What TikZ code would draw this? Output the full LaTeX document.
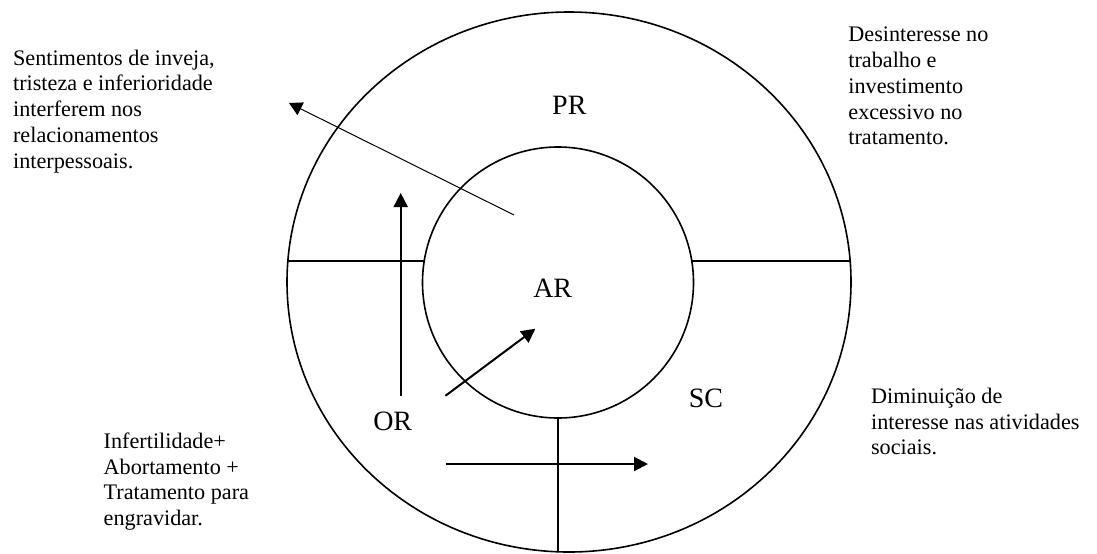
\documentclass[tikz,border=0pt]{standalone}
\usepackage{fontspec}
\setmainfont{Liberation Serif}
\usetikzlibrary{arrows.meta}

\tikzset{
  ring/.style={line width=0.8pt},
  lbl/.style={font=\fontsize{14}{16}\selectfont, inner sep=0pt, anchor=base},
  note/.style={font=\fontsize{11.1}{12.9}\selectfont, align=left, inner sep=0pt, anchor=base west},
  arr/.style={-{Triangle[length=7pt,width=7pt]}, line width=1pt},
  thinarr/.style={-{Triangle[length=6.5pt,width=7pt]}, line width=0.5pt}
}

\begin{document}
\begin{tikzpicture}[x=0.5pt, y=-0.5pt]
  \useasboundingbox (0,0) rectangle (1097,553);
  % rings
  \draw[ring] (569,282) ellipse [x radius=282, y radius=270];
  \draw[ring] (558,282.5) circle [radius=135.5];
  % dividers
  \coordinate (divLa) at (288,261);
  \coordinate (divLb) at (424.2,261);
  \coordinate (divRa) at (691.8,261);
  \coordinate (divRb) at (850.1,261);
  \coordinate (divBa) at (558,418);
  \coordinate (divBb) at (558,551.8);
  \draw[ring] (divLa) -- (divLb);
  \draw[ring] (divRa) -- (divRb);
  \draw[ring] (divBa) -- (divBb);
  % labels
  \node[lbl] (pr) at (569.3,114.6) {PR};
  \node[lbl] (ar) at (552.7,297) {AR};
  \node[lbl] (sc) at (705.9,407.4) {SC};
  \node[lbl] (or) at (392.7,430.3) {OR};
  % notes (anchored at the last line)
  \node[note] (envy) at (12.7,168.2) {Sentimentos de inveja,\\tristeza e inferioridade\\interferem nos\\relacionamentos\\interpessoais.};
  \node[note] (work) at (848,144.9) {Desinteresse no\\trabalho e\\investimento\\excessivo no\\tratamento.};
  \node[note] (cause) at (103.3,525.7) {Infertilidade+\\Abortamento +\\Tratamento para\\engravidar.};
  \node[note] (social) at (870.7,454.9) {Diminuição de\\interesse nas atividades\\sociais.};
  % arrows
  \coordinate (envyA) at (514,215);
  \coordinate (envyB) at (289,103);
  \coordinate (upA) at (400.7,396);
  \coordinate (upB) at (400.7,193);
  \coordinate (inA) at (445.4,395.8);
  \coordinate (inB) at (535.4,328.7);
  \coordinate (outA) at (445.5,464);
  \coordinate (outB) at (648,464);
  \draw[thinarr] (envyA) -- (envyB);
  \draw[arr] (upA) -- (upB);
  \draw[arr] (inA) -- (inB);
  \draw[arr] (outA) -- (outB);
\end{tikzpicture}
\end{document}
